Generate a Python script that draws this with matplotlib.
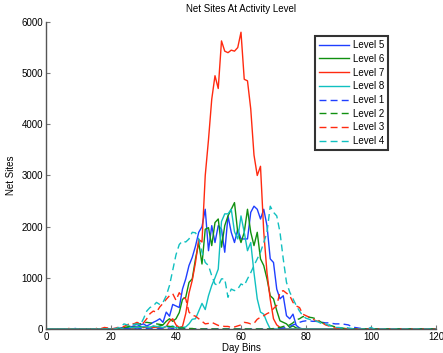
import matplotlib
matplotlib.use("Agg")
import matplotlib.pyplot as plt
import numpy as np

plt.rcParams['font.family'] = ['Liberation Sans', 'DejaVu Sans']

day = list(range(0, 121))

level5 = [0,0,0,0,0,0,0,0,0,10, 0,0,0,0,0,0,0,0,0,10,
          0,10,0,20,30,20,40,60,50,80, 100,60,90,130,160,200,130,330,250,480,
          450,420,780,980,1240,1400,1620,1890,2000,2340, 1530,2020,1690,2020,1950,1500,2210,1890,1690,1950,
          1760,1760,1760,2280,2400,2340,2150,2340,2020,1370, 1300,780,590,650,260,200,290,70,20,0,
          0,0,0,0,0,0,0,0,0,0, 0,0,0,0,0,0,0,0,0,0,
          0,0,0,0,0,0,0,0,0,0, 0,0,0,0,0,0,0,0,0,0, 0]
level6 = [0,0,0,0,0,0,0,0,0,0, 0,0,0,0,0,0,0,0,0,0,
          0,0,0,10,20,30,20,40,30,50, 30,40,30,50,40,60,80,150,200,150,
          200,320,580,620,910,980,1370,1690,1270,1950, 1980,1630,2080,2150,1600,2020,2210,2340,2470,1890,
          1690,1890,2340,1890,1630,1890,1370,1240,980,650, 590,360,160,130,100,30,60,20,10,0,
          0,0,0,0,0,0,0,0,0,0, 0,0,0,0,0,0,0,0,0,0,
          0,0,0,0,0,0,0,0,0,0, 0,0,0,0,0,0,0,0,0,0, 0]
level7 = [0,0,0,0,0,0,0,0,0,0, 0,0,0,0,0,0,0,0,0,0,
          0,0,0,0,10,0,20,10,30,20, 40,30,20,30,40,30,20,50,150,200,
          80,30,50,300,700,950,1300,1750,1700,3000, 3700,4490,4950,4700,5630,5430,5400,5450,5430,5500,
          5800,4880,4850,4300,3400,3000,3180,1900,1100,580, 200,80,30,10,0,0,0,0,0,0,
          0,0,0,0,0,0,0,0,0,0, 0,0,0,0,0,0,0,0,0,0,
          0,0,0,0,0,0,0,0,0,0, 0,0,0,0,0,0,0,0,0,0, 0]
level8 = [0,0,0,0,0,0,0,0,0,0, 0,0,0,0,0,0,0,0,0,0,
          0,0,0,0,20,10,30,20,40,30, 50,40,30,60,50,40,30,50,40,60,
          20,30,30,40,100,190,200,350,500,380, 650,850,1000,1170,2100,2250,2250,2340,1900,1760,
          2210,1890,1530,1690,1100,590,330,290,130,0, 0,0,0,0,0,0,0,0,0,0,
          0,0,0,0,0,0,0,0,0,0, 0,0,0,0,0,0,0,0,0,0,
          0,0,0,0,0,0,0,0,0,0, 0,0,0,0,0,0,0,0,0,0, 0]
level1 = [0,0,0,0,0,0,0,0,0,0, 0,0,0,0,0,0,0,0,0,0,
          0,0,0,0,0,10,0,10,0,10, 0,10,0,10,0,10,0,10,20,10,
          0,10,0,10,0,0,0,0,0,0, 0,0,0,0,0,0,0,0,0,0,
          0,0,0,0,0,0,0,0,0,0, 0,0,10,20,30,50,80,100,130,150,
          160,160,150,150,140,130,120,120,110,100, 100,100,90,80,50,30,20,10,0,0,
          20,0,0,0,0,0,0,0,0,0, 0,0,0,0,0,0,0,0,0,0, 0]
level2 = [0,0,0,0,0,0,0,0,0,0, 0,0,0,0,0,0,0,0,0,0,
          0,0,10,20,30,40,60,80,100,100, 120,130,120,110,100,90,80,60,50,40,
          30,20,20,10,10,10,0,0,0,0, 0,0,0,0,0,0,0,0,0,0,
          0,0,0,0,0,0,0,0,0,0, 10,20,30,50,60,80,120,180,200,240,
          250,230,220,200,160,120,100,80,60,40, 30,20,10,0,0,0,0,0,0,0,
          0,0,0,0,0,0,0,0,0,0, 0,0,0,0,0,0,0,0,0,0, 0]
level3 = [0,0,0,0,0,0,0,10,0,0, 0,0,0,10,0,0,20,10,30,20,
          0,10,30,20,50,80,120,100,130,100, 120,200,300,350,330,430,500,580,650,690,
          560,710,620,590,330,270,250,200,150,100, 110,130,100,70,60,50,50,30,40,60,
          80,130,120,100,110,190,230,260,300,330, 400,460,720,750,700,650,520,450,420,290,
          260,230,200,160,150,120,80,60,30,20, 10,0,0,0,0,0,0,0,0,0,
          0,0,0,0,0,0,0,0,0,0, 0,0,0,0,0,0,0,0,0,0, 0]
level4 = [0,0,0,0,0,0,0,0,0,0, 0,0,0,0,0,0,0,0,0,0,
          0,0,20,40,100,80,60,90,100,80, 200,350,420,450,520,480,520,650,850,1150,
          1450,1650,1720,1700,1760,1890,1880,1760,1500,1300, 1240,1040,880,850,980,980,620,780,750,780,
          880,850,980,1100,1240,1370,1500,1690,1890,2400, 2280,2210,1890,1370,910,720,590,460,350,260,
          210,190,170,160,130,100,100,70,50,30, 30,20,30,20,10,0,0,0,0,0,
          30,0,0,0,0,0,0,0,0,0, 0,0,0,0,0,0,0,0,0,0, 0]

labels = ['Level 5', 'Level 6', 'Level 7', 'Level 8',
          'Level 1', 'Level 2', 'Level 3', 'Level 4']
series = [level5, level6, level7, level8, level1, level2, level3, level4]
colors = ['#1f3fff', '#109010', '#ff2a10', '#10c0c0'] * 2
styles = ['-'] * 4 + [(0, (5, 3))] * 4

fig = plt.figure(figsize=(4.43, 3.53), dpi=100)
ax = fig.add_axes([0.1038, 0.068, 0.8804, 0.8697])

for ys, c, ls, lab in zip(series, colors, styles, labels):
    ax.plot(day, ys, color=c, linestyle=ls, linewidth=1.0, label=lab)

ax.set_xlim(0, 120)
ax.set_ylim(0, 6000)
ax.set_xticks([0, 20, 40, 60, 80, 100, 120])
ax.set_yticks([0, 1000, 2000, 3000, 4000, 5000, 6000])
ax.spines['top'].set_visible(False)
ax.spines['right'].set_visible(False)
for s in ['left', 'bottom']:
    ax.spines[s].set_color('#555555')
    ax.spines[s].set_linewidth(1.0)
ax.tick_params(direction='in', length=3, width=0.8, color='#777777',
               labelsize=7, pad=2)
ax.set_title('Net Sites At Activity Level', fontsize=7, pad=7)
ax.set_xlabel('Day Bins', fontsize=7, labelpad=1)
ax.set_ylabel('Net Sites', fontsize=7, labelpad=4)

leg = ax.legend(loc='upper left', bbox_to_anchor=(0.69, 0.955), fontsize=7,
                frameon=True, fancybox=False, handlelength=3.0,
                handletextpad=0.4, labelspacing=0.38, borderpad=0.45,
                borderaxespad=0)
leg.get_frame().set_edgecolor('black')
leg.get_frame().set_linewidth(1.5)

fig.savefig('out.png', dpi=100)
